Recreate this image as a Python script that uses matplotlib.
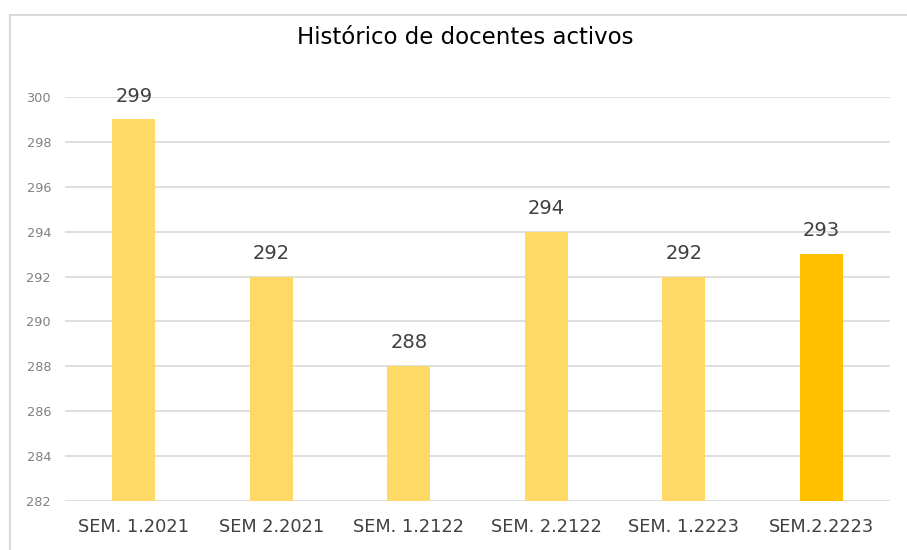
import matplotlib
matplotlib.use("Agg")
import matplotlib.pyplot as plt
from matplotlib.patches import Rectangle

categories = ["SEM. 1.2021", "SEM 2.2021", "SEM. 1.2122", "SEM. 2.2122", "SEM. 1.2223", "SEM.2.2223"]
values = [299, 292, 288, 294, 292, 293]
colors = ["#FFD966", "#FFD966", "#FFD966", "#FFD966", "#FFD966", "#FFC000"]
yticks = [282, 284, 286, 288, 290, 292, 294, 296, 298, 300]
title = "Histórico de docentes activos"

plt.rcParams['font.family'] = ['DejaVu Sans']

fig = plt.figure(figsize=(9.07, 5.5), dpi=100)
fig.patches.append(Rectangle((10/907, -0.1), 1.2, 1 - 15/550 + 0.1, transform=fig.transFigure,
                             fill=False, edgecolor="#d9d9d9", linewidth=1.5))
ax = fig.add_axes([65/907, 1 - 501/550, 825/907, (501 - 97)/550])

x = range(len(categories))
ax.bar(x, values, width=0.315, color=colors, zorder=3)
ax.set_ylim(282, 300)
ax.set_xlim(-0.5, len(categories) - 0.5)
ax.set_yticks(yticks)
ax.set_yticklabels([str(t) for t in yticks], fontsize=9.3, color="#808080")
ax.set_xticks(list(x))
ax.set_xticklabels(categories, fontsize=12.8, color="#404040")
ax.tick_params(axis="both", length=0)
ax.tick_params(axis="y", pad=10)
ax.tick_params(axis="x", pad=12)
ax.grid(axis="y", color="#d9d9d9", linewidth=1.2, zorder=0)
for s in ax.spines.values():
    s.set_visible(False)

for xi, v in zip(x, values):
    ax.annotate(str(v), (xi, v), xytext=(0, 10), textcoords="offset points",
                ha="center", va="bottom", fontsize=14, color="#404040", annotation_clip=False)

fig.text(465/907, 1 - 38/550, title, ha="center", va="center", fontsize=16.5, color="#000000")

fig.savefig("out.png", dpi=100)
